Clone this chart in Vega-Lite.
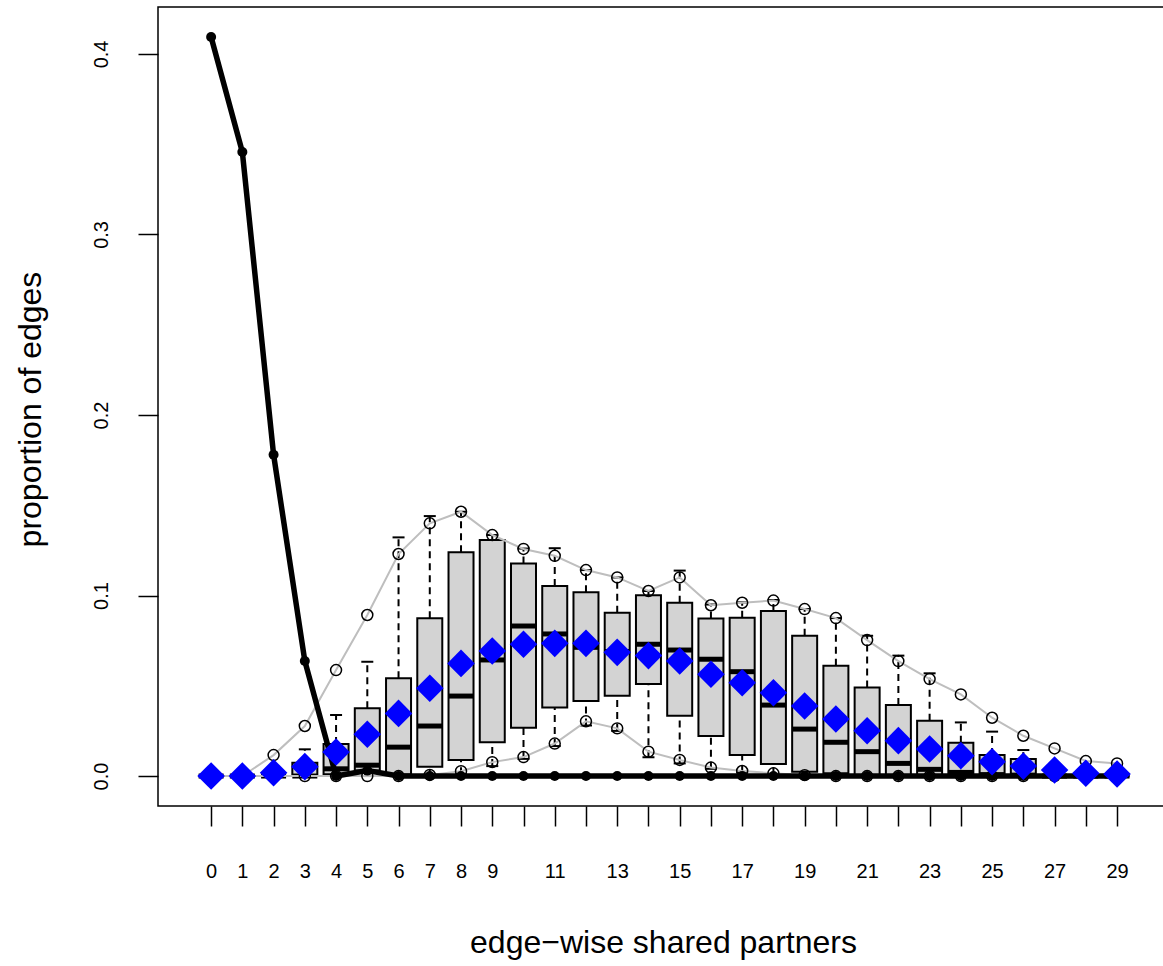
{
  "$schema": "https://vega.github.io/schema/vega-lite/v6.json",
  "width": 1007,
  "height": 799,
  "autosize": {"type": "none"},
  "padding": {"left": 158, "top": 7, "right": 0, "bottom": 160},
  "background": "white",
  "config": {
    "view": {"stroke": "black", "strokeWidth": 1.5},
    "font": "Liberation Sans"
  },
  "data": {
    "values": [
      {"x": 0, "lo": 0, "q1": 0, "med": 0, "q3": 0, "hi": 0, "mean": 0, "plo": 0, "phi": 0, "obs": 0.4094},
      {"x": 1, "lo": 0, "q1": 0, "med": 0, "q3": 0, "hi": 0, "mean": 0, "plo": 0, "phi": 0, "obs": 0.3457},
      {"x": 2, "lo": 0, "q1": 0, "med": 0, "q3": 0, "hi": 0, "mean": 0.0018, "plo": 0, "phi": 0.0116, "obs": 0.178},
      {"x": 3, "lo": 0, "q1": 0, "med": 0, "q3": 0.0074, "hi": 0.0148, "mean": 0.0052, "plo": 0, "phi": 0.0277, "obs": 0.0637},
      {"x": 4, "lo": 0, "q1": 0.001, "med": 0.004, "q3": 0.0177, "hi": 0.0338, "mean": 0.0133, "plo": 0, "phi": 0.0587, "obs": 0},
      {"x": 5, "lo": 0, "q1": 0.003, "med": 0.006, "q3": 0.0375, "hi": 0.0633, "mean": 0.0231, "plo": 0, "phi": 0.0892, "obs": 0.003},
      {"x": 6, "lo": 0, "q1": 0.0008, "med": 0.016, "q3": 0.0541, "hi": 0.1322, "mean": 0.0347, "plo": 0, "phi": 0.123, "obs": 0},
      {"x": 7, "lo": 0, "q1": 0.0052, "med": 0.0277, "q3": 0.0874, "hi": 0.144, "mean": 0.0486, "plo": 0.0006, "phi": 0.14, "obs": 0},
      {"x": 8, "lo": 0.001, "q1": 0.0089, "med": 0.0443, "q3": 0.1239, "hi": 0.1464, "mean": 0.0624, "plo": 0.0027, "phi": 0.1464, "obs": 0},
      {"x": 9, "lo": 0.0055, "q1": 0.0187, "med": 0.0643, "q3": 0.1307, "hi": 0.1335, "mean": 0.0693, "plo": 0.0077, "phi": 0.1335, "obs": 0},
      {"x": 10, "lo": 0.0095, "q1": 0.0268, "med": 0.0831, "q3": 0.1178, "hi": 0.126, "mean": 0.073, "plo": 0.0105, "phi": 0.1258, "obs": 0},
      {"x": 11, "lo": 0.0166, "q1": 0.038, "med": 0.0787, "q3": 0.1053, "hi": 0.1262, "mean": 0.0735, "plo": 0.018, "phi": 0.122, "obs": 0},
      {"x": 12, "lo": 0.028, "q1": 0.0416, "med": 0.0713, "q3": 0.1018, "hi": 0.1141, "mean": 0.0735, "plo": 0.0303, "phi": 0.1141, "obs": 0},
      {"x": 13, "lo": 0.025, "q1": 0.0445, "med": 0.069, "q3": 0.0905, "hi": 0.11, "mean": 0.0685, "plo": 0.0264, "phi": 0.11, "obs": 0},
      {"x": 14, "lo": 0.0104, "q1": 0.051, "med": 0.073, "q3": 0.1001, "hi": 0.1025, "mean": 0.0667, "plo": 0.0135, "phi": 0.1025, "obs": 0},
      {"x": 15, "lo": 0.007, "q1": 0.0334, "med": 0.0698, "q3": 0.096, "hi": 0.1138, "mean": 0.0637, "plo": 0.0089, "phi": 0.11, "obs": 0},
      {"x": 16, "lo": 0.004, "q1": 0.0222, "med": 0.0647, "q3": 0.0873, "hi": 0.095, "mean": 0.0564, "plo": 0.0047, "phi": 0.0946, "obs": 0},
      {"x": 17, "lo": 0.002, "q1": 0.0116, "med": 0.0578, "q3": 0.0877, "hi": 0.0962, "mean": 0.0517, "plo": 0.0028, "phi": 0.096, "obs": 0},
      {"x": 18, "lo": 0.001, "q1": 0.0066, "med": 0.0393, "q3": 0.0914, "hi": 0.0975, "mean": 0.0461, "plo": 0.0015, "phi": 0.0972, "obs": 0},
      {"x": 19, "lo": 0, "q1": 0.0024, "med": 0.026, "q3": 0.0777, "hi": 0.0925, "mean": 0.0388, "plo": 0.0005, "phi": 0.0925, "obs": 0},
      {"x": 20, "lo": 0, "q1": 0.0015, "med": 0.0187, "q3": 0.0611, "hi": 0.0875, "mean": 0.0316, "plo": 0, "phi": 0.0875, "obs": 0},
      {"x": 21, "lo": 0, "q1": 0.0005, "med": 0.0135, "q3": 0.049, "hi": 0.0777, "mean": 0.0251, "plo": 0, "phi": 0.0753, "obs": 0},
      {"x": 22, "lo": 0, "q1": 0, "med": 0.007, "q3": 0.0393, "hi": 0.0667, "mean": 0.0196, "plo": 0, "phi": 0.0637, "obs": 0},
      {"x": 23, "lo": 0, "q1": 0, "med": 0.0037, "q3": 0.0306, "hi": 0.0569, "mean": 0.015, "plo": 0, "phi": 0.0537, "obs": 0},
      {"x": 24, "lo": 0, "q1": 0, "med": 0.002, "q3": 0.0185, "hi": 0.0297, "mean": 0.0113, "plo": 0, "phi": 0.0452, "obs": 0},
      {"x": 25, "lo": 0, "q1": 0, "med": 0.0008, "q3": 0.0116, "hi": 0.0246, "mean": 0.0079, "plo": 0, "phi": 0.0323, "obs": 0},
      {"x": 26, "lo": 0, "q1": 0, "med": 0.0005, "q3": 0.0094, "hi": 0.0144, "mean": 0.0055, "plo": 0, "phi": 0.0223, "obs": 0},
      {"x": 27, "lo": 0, "q1": 0, "med": 0, "q3": 0, "hi": 0, "mean": 0.0033, "plo": 0, "phi": 0.0153, "obs": 0},
      {"x": 28, "lo": 0, "q1": 0, "med": 0, "q3": 0, "hi": 0, "mean": 0.0015, "plo": 0, "phi": 0.0083, "obs": 0},
      {"x": 29, "lo": 0, "q1": 0, "med": 0, "q3": 0, "hi": 0, "mean": 0.0011, "plo": 0, "phi": 0.007, "obs": 0}
    ]
  },
  "encoding": {
    "x": {
      "field": "x",
      "type": "quantitative",
      "scale": {"domain": [-1.7, 30.535], "nice": false, "zero": false, "padding": 0},
      "axis": {
        "values": [0, 1, 2, 3, 4, 5, 6, 7, 8, 9, 10, 11, 12, 13, 14, 15, 16, 17, 18, 19, 20, 21, 22, 23, 24, 25, 26, 27, 28, 29],
        "labelExpr": "datum.value < 10 || datum.value % 2 == 1 ? datum.label : ''",
        "grid": false,
        "domain": false,
        "tickSize": 20,
        "tickWidth": 1.5,
        "tickColor": "black",
        "labelPadding": 35,
        "labelFontSize": 20,
        "labelColor": "black",
        "labelFlush": false,
        "labelOverlap": false,
        "title": "edge−wise shared partners",
        "titleFontSize": 32,
        "titleFontWeight": "normal",
        "titleColor": "black",
        "titleX": 505,
        "titleY": 146,
        "titleAlign": "center",
        "titleBaseline": "alphabetic"
      }
    }
  },
  "layer": [
    {
      "mark": {"type": "rule", "strokeDash": [7, 5], "strokeWidth": 2, "color": "black"},
      "encoding": {
        "y": {"field": "q3", "type": "quantitative", "scale": {"domain": [-0.0166, 0.426], "nice": false, "zero": false, "padding": 0},
          "axis": {"values": [0, 0.1, 0.2, 0.3, 0.4], "format": ".1f", "grid": false, "domain": false, "tickSize": 20, "tickWidth": 1.5, "tickColor": "black", "labelAngle": 270, "labelAlign": "center", "labelBaseline": "bottom", "labelPadding": 27, "labelFontSize": 20, "labelColor": "black", "labelFlush": false, "title": "proportion of edges", "titleFontSize": 32, "titleFontWeight": "normal", "titleColor": "black", "titleAngle": 270, "titleAlign": "center", "titleBaseline": "middle", "titleX": -128, "titleY": 402}},
        "y2": {"field": "hi"}
      }
    },
    {
      "mark": {"type": "rule", "strokeDash": [7, 5], "strokeWidth": 2, "color": "black"},
      "encoding": {
        "y": {"field": "lo", "type": "quantitative",
          "axis": {"values": [0, 0.1, 0.2, 0.3, 0.4], "format": ".1f", "grid": false, "domain": false, "tickSize": 20, "tickWidth": 1.5, "tickColor": "black", "labelAngle": 270, "labelAlign": "center", "labelBaseline": "bottom", "labelPadding": 27, "labelFontSize": 20, "labelColor": "black", "labelFlush": false, "title": "proportion of edges", "titleFontSize": 32, "titleFontWeight": "normal", "titleColor": "black", "titleAngle": 270, "titleAlign": "center", "titleBaseline": "middle", "titleX": -128, "titleY": 402}},
        "y2": {"field": "q1"}
      }
    },
    {
      "mark": {"type": "tick", "orient": "horizontal", "size": 12, "thickness": 2, "color": "black", "opacity": 1},
      "encoding": {
        "y": {"field": "hi", "type": "quantitative",
          "axis": {"values": [0, 0.1, 0.2, 0.3, 0.4], "format": ".1f", "grid": false, "domain": false, "tickSize": 20, "tickWidth": 1.5, "tickColor": "black", "labelAngle": 270, "labelAlign": "center", "labelBaseline": "bottom", "labelPadding": 27, "labelFontSize": 20, "labelColor": "black", "labelFlush": false, "title": "proportion of edges", "titleFontSize": 32, "titleFontWeight": "normal", "titleColor": "black", "titleAngle": 270, "titleAlign": "center", "titleBaseline": "middle", "titleX": -128, "titleY": 402}}
      }
    },
    {
      "mark": {"type": "tick", "orient": "horizontal", "size": 12, "thickness": 2, "color": "black", "opacity": 1},
      "encoding": {
        "y": {"field": "lo", "type": "quantitative",
          "axis": {"values": [0, 0.1, 0.2, 0.3, 0.4], "format": ".1f", "grid": false, "domain": false, "tickSize": 20, "tickWidth": 1.5, "tickColor": "black", "labelAngle": 270, "labelAlign": "center", "labelBaseline": "bottom", "labelPadding": 27, "labelFontSize": 20, "labelColor": "black", "labelFlush": false, "title": "proportion of edges", "titleFontSize": 32, "titleFontWeight": "normal", "titleColor": "black", "titleAngle": 270, "titleAlign": "center", "titleBaseline": "middle", "titleX": -128, "titleY": 402}}
      }
    },
    {
      "mark": {"type": "bar", "width": 25, "fill": "#D3D3D3", "stroke": "black", "strokeWidth": 2},
      "encoding": {
        "y": {"field": "q1", "type": "quantitative",
          "axis": {"values": [0, 0.1, 0.2, 0.3, 0.4], "format": ".1f", "grid": false, "domain": false, "tickSize": 20, "tickWidth": 1.5, "tickColor": "black", "labelAngle": 270, "labelAlign": "center", "labelBaseline": "bottom", "labelPadding": 27, "labelFontSize": 20, "labelColor": "black", "labelFlush": false, "title": "proportion of edges", "titleFontSize": 32, "titleFontWeight": "normal", "titleColor": "black", "titleAngle": 270, "titleAlign": "center", "titleBaseline": "middle", "titleX": -128, "titleY": 402}},
        "y2": {"field": "q3"}
      }
    },
    {
      "mark": {"type": "tick", "orient": "horizontal", "size": 25, "thickness": 5, "color": "black", "opacity": 1},
      "encoding": {
        "y": {"field": "med", "type": "quantitative",
          "axis": {"values": [0, 0.1, 0.2, 0.3, 0.4], "format": ".1f", "grid": false, "domain": false, "tickSize": 20, "tickWidth": 1.5, "tickColor": "black", "labelAngle": 270, "labelAlign": "center", "labelBaseline": "bottom", "labelPadding": 27, "labelFontSize": 20, "labelColor": "black", "labelFlush": false, "title": "proportion of edges", "titleFontSize": 32, "titleFontWeight": "normal", "titleColor": "black", "titleAngle": 270, "titleAlign": "center", "titleBaseline": "middle", "titleX": -128, "titleY": 402}}
      }
    },
    {
      "mark": {"type": "line", "color": "#BEBEBE", "strokeWidth": 2},
      "encoding": {
        "y": {"field": "phi", "type": "quantitative",
          "axis": {"values": [0, 0.1, 0.2, 0.3, 0.4], "format": ".1f", "grid": false, "domain": false, "tickSize": 20, "tickWidth": 1.5, "tickColor": "black", "labelAngle": 270, "labelAlign": "center", "labelBaseline": "bottom", "labelPadding": 27, "labelFontSize": 20, "labelColor": "black", "labelFlush": false, "title": "proportion of edges", "titleFontSize": 32, "titleFontWeight": "normal", "titleColor": "black", "titleAngle": 270, "titleAlign": "center", "titleBaseline": "middle", "titleX": -128, "titleY": 402}}
      }
    },
    {
      "mark": {"type": "line", "color": "#BEBEBE", "strokeWidth": 2},
      "encoding": {
        "y": {"field": "plo", "type": "quantitative",
          "axis": {"values": [0, 0.1, 0.2, 0.3, 0.4], "format": ".1f", "grid": false, "domain": false, "tickSize": 20, "tickWidth": 1.5, "tickColor": "black", "labelAngle": 270, "labelAlign": "center", "labelBaseline": "bottom", "labelPadding": 27, "labelFontSize": 20, "labelColor": "black", "labelFlush": false, "title": "proportion of edges", "titleFontSize": 32, "titleFontWeight": "normal", "titleColor": "black", "titleAngle": 270, "titleAlign": "center", "titleBaseline": "middle", "titleX": -128, "titleY": 402}}
      }
    },
    {
      "mark": {"type": "point", "shape": "circle", "filled": false, "size": 120, "stroke": "black", "strokeWidth": 1.5, "opacity": 1},
      "encoding": {
        "y": {"field": "phi", "type": "quantitative",
          "axis": {"values": [0, 0.1, 0.2, 0.3, 0.4], "format": ".1f", "grid": false, "domain": false, "tickSize": 20, "tickWidth": 1.5, "tickColor": "black", "labelAngle": 270, "labelAlign": "center", "labelBaseline": "bottom", "labelPadding": 27, "labelFontSize": 20, "labelColor": "black", "labelFlush": false, "title": "proportion of edges", "titleFontSize": 32, "titleFontWeight": "normal", "titleColor": "black", "titleAngle": 270, "titleAlign": "center", "titleBaseline": "middle", "titleX": -128, "titleY": 402}}
      }
    },
    {
      "mark": {"type": "point", "shape": "circle", "filled": false, "size": 120, "stroke": "black", "strokeWidth": 1.5, "opacity": 1},
      "encoding": {
        "y": {"field": "plo", "type": "quantitative",
          "axis": {"values": [0, 0.1, 0.2, 0.3, 0.4], "format": ".1f", "grid": false, "domain": false, "tickSize": 20, "tickWidth": 1.5, "tickColor": "black", "labelAngle": 270, "labelAlign": "center", "labelBaseline": "bottom", "labelPadding": 27, "labelFontSize": 20, "labelColor": "black", "labelFlush": false, "title": "proportion of edges", "titleFontSize": 32, "titleFontWeight": "normal", "titleColor": "black", "titleAngle": 270, "titleAlign": "center", "titleBaseline": "middle", "titleX": -128, "titleY": 402}}
      }
    },
    {
      "mark": {"type": "line", "color": "black", "strokeWidth": 5.5},
      "encoding": {
        "y": {"field": "obs", "type": "quantitative",
          "axis": {"values": [0, 0.1, 0.2, 0.3, 0.4], "format": ".1f", "grid": false, "domain": false, "tickSize": 20, "tickWidth": 1.5, "tickColor": "black", "labelAngle": 270, "labelAlign": "center", "labelBaseline": "bottom", "labelPadding": 27, "labelFontSize": 20, "labelColor": "black", "labelFlush": false, "title": "proportion of edges", "titleFontSize": 32, "titleFontWeight": "normal", "titleColor": "black", "titleAngle": 270, "titleAlign": "center", "titleBaseline": "middle", "titleX": -128, "titleY": 402}}
      }
    },
    {
      "mark": {"type": "point", "shape": "circle", "filled": true, "size": 100, "color": "black", "opacity": 1},
      "encoding": {
        "y": {"field": "obs", "type": "quantitative",
          "axis": {"values": [0, 0.1, 0.2, 0.3, 0.4], "format": ".1f", "grid": false, "domain": false, "tickSize": 20, "tickWidth": 1.5, "tickColor": "black", "labelAngle": 270, "labelAlign": "center", "labelBaseline": "bottom", "labelPadding": 27, "labelFontSize": 20, "labelColor": "black", "labelFlush": false, "title": "proportion of edges", "titleFontSize": 32, "titleFontWeight": "normal", "titleColor": "black", "titleAngle": 270, "titleAlign": "center", "titleBaseline": "middle", "titleX": -128, "titleY": 402}}
      }
    },
    {
      "mark": {"type": "point", "shape": "diamond", "filled": true, "size": 760, "color": "#0000FF", "opacity": 1},
      "encoding": {
        "y": {"field": "mean", "type": "quantitative",
          "axis": {"values": [0, 0.1, 0.2, 0.3, 0.4], "format": ".1f", "grid": false, "domain": false, "tickSize": 20, "tickWidth": 1.5, "tickColor": "black", "labelAngle": 270, "labelAlign": "center", "labelBaseline": "bottom", "labelPadding": 27, "labelFontSize": 20, "labelColor": "black", "labelFlush": false, "title": "proportion of edges", "titleFontSize": 32, "titleFontWeight": "normal", "titleColor": "black", "titleAngle": 270, "titleAlign": "center", "titleBaseline": "middle", "titleX": -128, "titleY": 402}}
      }
    }
  ]
}
